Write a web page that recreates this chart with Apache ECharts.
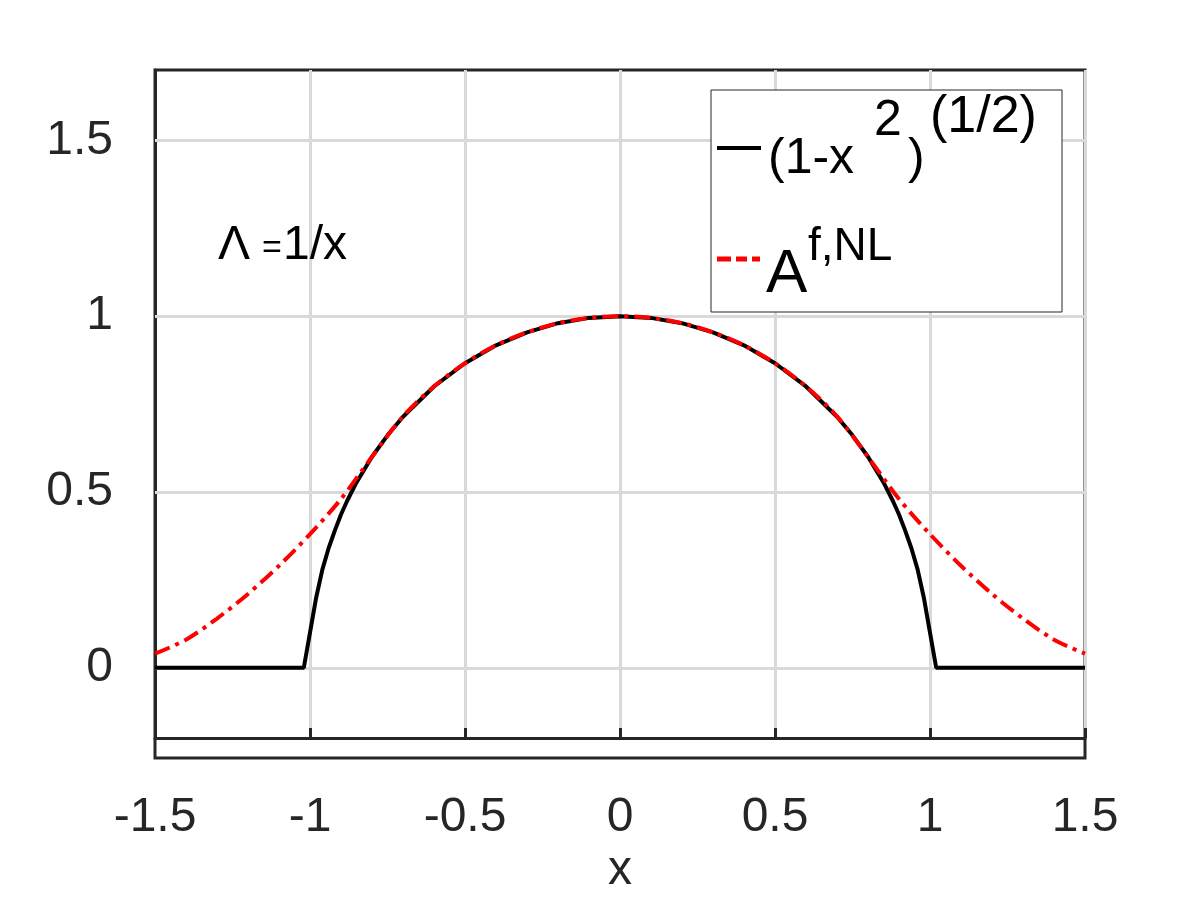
<!DOCTYPE html>
<html><head><meta charset="utf-8">
<script src="https://cdn.jsdelivr.net/npm/echarts@6/dist/echarts.min.js"></script>
<style>html,body{margin:0;background:#fff}#c{width:1200px;height:900px}</style>
</head><body><div id="c"></div>
<script>
const blackX = [-1.5,-1.02,-1.0,-0.98,-0.96,-0.94,-0.92,-0.9,-0.88,-0.85,-0.8,-0.75,-0.7,-0.6,-0.5,-0.4,-0.3,-0.2,-0.1,0,0.1,0.2,0.3,0.4,0.5,0.6,0.7,0.75,0.8,0.85,0.88,0.9,0.92,0.94,0.96,0.98,1.0,1.02,1.5];
const blackY = [0,0,0.1,0.2,0.28,0.34,0.39,0.436,0.475,0.527,0.6,0.661,0.714,0.8,0.866,0.917,0.954,0.98,0.995,1,0.995,0.98,0.954,0.917,0.866,0.8,0.714,0.661,0.6,0.527,0.475,0.436,0.39,0.34,0.28,0.2,0.1,0,0];
const redX = [-1.5,-1.4,-1.3,-1.2,-1.1,-1.0,-0.9,-0.8,-0.7,-0.6,-0.5,-0.4,-0.3,-0.2,-0.1,0,0.1,0.2,0.3,0.4,0.5,0.6,0.7,0.8,0.9,1.0,1.1,1.2,1.3,1.4,1.5];
const redY = [0.04,0.08,0.14,0.21,0.29,0.38,0.48,0.6,0.715,0.8,0.866,0.917,0.954,0.98,0.995,1,0.995,0.98,0.954,0.917,0.866,0.8,0.715,0.6,0.48,0.38,0.29,0.21,0.14,0.08,0.04];
const xTicks = [-1.5,-1,-0.5,0,0.5,1,1.5];
const yTicks = [0,0.5,1,1.5];
const font = 'Liberation Sans';
const ink = '#262626';
const chart = echarts.init(document.getElementById('c'));
const pair = (xs, ys) => xs.map((x, i) => [x, ys[i]]);
const txt = (left, top, text, size, z) => ({type:'text', left, top, z: z||11, style:{text, fontSize:size, fontFamily:font, fill:'#000'}});
chart.setOption({
  animation:false,
  grid:{left:155,right:115,top:70,bottom:142},
  xAxis:{type:'value',min:-1.5,max:1.5,interval:0.5,
    name:'x',nameLocation:'middle',nameGap:100,nameTextStyle:{fontSize:48,color:ink,fontFamily:font},
    axisLine:{onZero:false,lineStyle:{color:ink,width:3}},
    axisTick:{inside:true,length:10,lineStyle:{color:ink,width:3}},
    axisLabel:{fontSize:48,color:ink,fontFamily:font,margin:56,formatter:v=>xTicks.includes(v)?String(v):''},
    splitLine:{show:true,lineStyle:{color:'#d9d9d9',width:3}}},
  yAxis:{type:'value',min:-0.2,max:1.7,
    axisLine:{onZero:false,lineStyle:{color:ink,width:3}},
    axisTick:{show:false},
    axisLabel:{fontSize:48,color:ink,fontFamily:font,margin:42,customValues:yTicks,formatter:v=>String(v)},
    splitLine:{show:false}},
  graphic:[
    {type:'rect',shape:{x:155,y:70,width:930,height:688},style:{fill:'none',stroke:ink,lineWidth:3},z:-1},
    txt(218,222,'Λ',48,5), txt(262,232,'=',34,5), txt(283,222,'1/x',48,5),
    {type:'rect',shape:{x:711,y:90,width:351,height:222},style:{fill:'#fff',stroke:ink,lineWidth:1},z:10},
    {type:'line',shape:{x1:717,y1:148,x2:761,y2:148},style:{stroke:'#000',lineWidth:4},z:11},
    txt(768,134,'(1-x',50), txt(874,96,'2',50), txt(908,134,')',50), txt(930,92,'(1/2)',52),
    {type:'line',shape:{x1:717,y1:259,x2:760,y2:259},style:{stroke:'#ff0000',lineWidth:5,lineDash:[14,5,11,5]},z:11},
    txt(766,244,'A',62), txt(808,224,'f,NL',46)
  ],
  series:[
    {type:'line',data:pair(blackX,blackY),showSymbol:false,lineStyle:{color:'#000',width:4},z:3,
      markLine:{silent:true,symbol:'none',label:{show:false},lineStyle:{color:'#d9d9d9',width:3,type:'solid'},z:1,
        data:yTicks.map(v=>({yAxis:v}))}},
    {type:'line',data:pair(redX,redY),smooth:0.3,showSymbol:false,lineStyle:{color:'#ff0000',width:4,type:[16,6,4,6]},z:4}
  ]
});
</script></body></html>
